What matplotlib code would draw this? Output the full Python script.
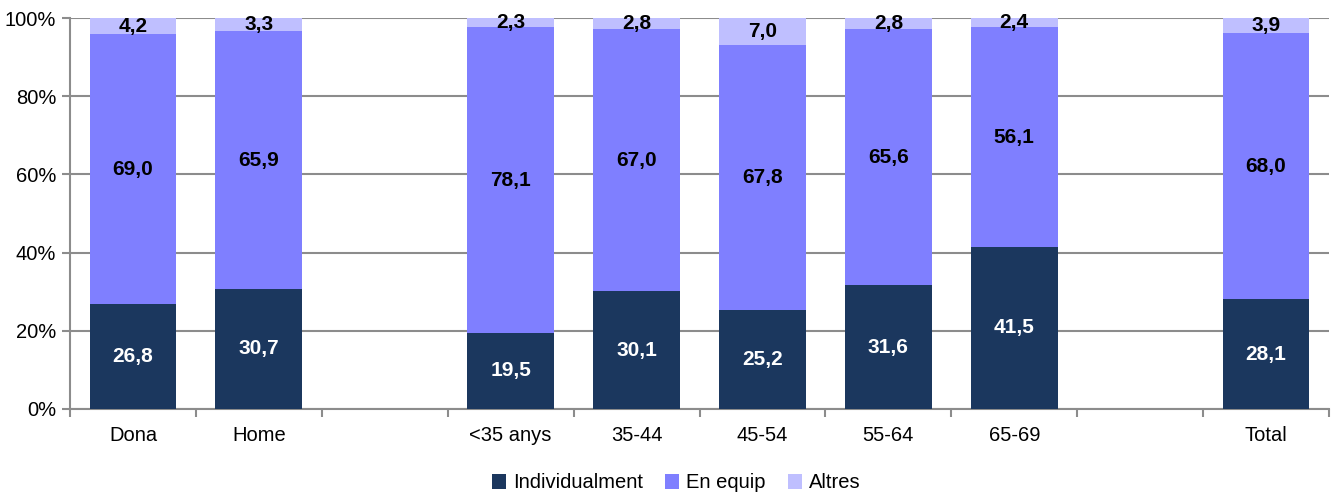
import matplotlib
matplotlib.use("Agg")
import matplotlib.pyplot as plt
from matplotlib import font_manager
import numpy as np

categories = ["Dona", "Home", "", "<35 anys", "35-44", "45-54", "55-64", "65-69", "", "Total"]
individualment = [26.8, 30.7, None, 19.5, 30.1, 25.2, 31.6, 41.5, None, 28.1]
en_equip = [69.0, 65.9, None, 78.1, 67.0, 67.8, 65.6, 56.1, None, 68.0]
altres = [4.2, 3.3, None, 2.3, 2.8, 7.0, 2.8, 2.4, None, 3.9]

names = {f.name for f in font_manager.fontManager.ttflist}
fam = "Liberation Sans Narrow" if "Liberation Sans Narrow" in names else "Liberation Sans"
plt.rcParams['font.family'] = [fam, 'DejaVu Sans']

c_ind = "#1B375E"
c_eq = "#7F7FFF"
c_alt = "#BFBFFF"

fig = plt.figure(figsize=(13.44, 4.97), dpi=100)
ax = fig.add_axes([70/1344, 88/497, 1259/1344, 391/497])

x = np.arange(len(categories))
w = 0.69
def arr(v):
    return np.array([np.nan if a is None else a for a in v], dtype=float)
ind = arr(individualment); eq = arr(en_equip); alt = arr(altres)
scale = lambda v: v / 100.0

b1 = ax.bar(x, scale(ind), w, color=c_ind, label="Individualment", zorder=3)
b2 = ax.bar(x, scale(eq), w, bottom=scale(ind), color=c_eq, label="En equip", zorder=3)
b3 = ax.bar(x, scale(alt), w, bottom=scale(ind + eq), color=c_alt, label="Altres", zorder=3)

def fmt(v):
    return f"{v:.1f}".replace(".", ",")

fs_lab = 15
for i in range(len(x)):
    if np.isnan(ind[i]):
        continue
    ax.text(x[i], scale(ind[i] / 2), fmt(ind[i]), ha="center", va="center",
            color="white", fontsize=fs_lab, fontweight="bold", zorder=4)
    ax.text(x[i], scale(ind[i] + eq[i] / 2), fmt(eq[i]), ha="center", va="center",
            color="black", fontsize=fs_lab, fontweight="bold", zorder=4)
    ax.text(x[i], scale(ind[i] + eq[i] + alt[i] / 2), fmt(alt[i]), ha="center", va="center",
            color="black", fontsize=fs_lab, fontweight="bold", zorder=4)

ax.set_xlim(-0.5, len(categories) - 0.5)
ax.set_ylim(0, 1)
ax.set_yticks(np.arange(0, 1.01, 0.2))
ax.set_yticklabels([f"{int(round(v*100))}%" for v in np.arange(0, 1.01, 0.2)], fontsize=14.5)
ax.yaxis.grid(True, color="#8C8C8C", linewidth=1.5, zorder=0)
ax.set_xticks(x)
ax.set_xticklabels(categories, fontsize=14.5)
ax.tick_params(axis="x", which="major", length=0, pad=12)
ax.set_xticks(np.arange(-0.5, len(categories), 1.0), minor=True)
ax.tick_params(axis="x", which="minor", length=6, width=1.5, color="#8C8C8C", direction="out")
ax.tick_params(axis="y", length=6, width=1.5, color="#8C8C8C", direction="out", pad=4)
for s in ["top", "right"]:
    ax.spines[s].set_visible(False)
for s in ["left", "bottom"]:
    ax.spines[s].set_color("#8C8C8C")
    ax.spines[s].set_linewidth(1.5)

leg = fig.legend(handles=[b1, b2, b3], loc="center", bbox_to_anchor=(676/1344, 1 - 483/497),
                 ncol=3, frameon=False, fontsize=14.5, handlelength=0.7, handleheight=0.7,
                 handletextpad=0.35, columnspacing=1.1)

fig.savefig("out.png", dpi=100)
